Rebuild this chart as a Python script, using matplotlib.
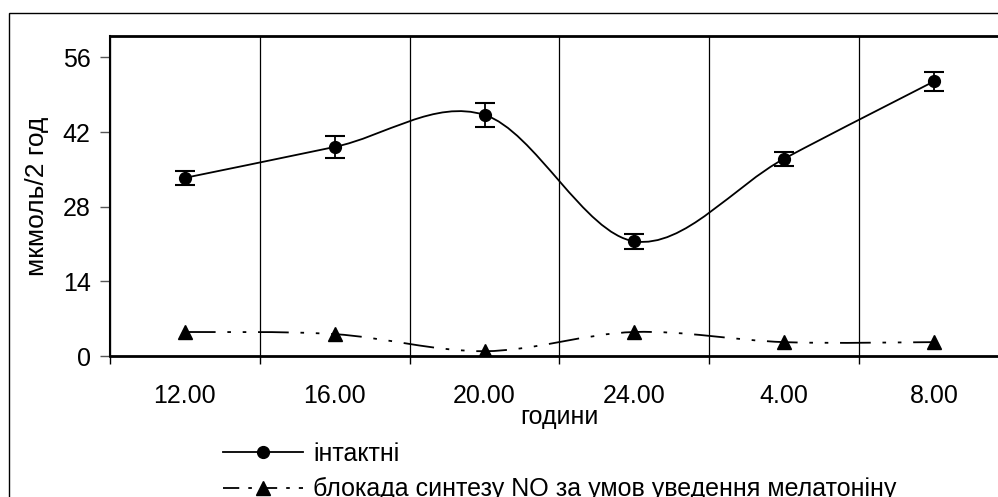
import numpy as np
import matplotlib
matplotlib.use('Agg')
import matplotlib.pyplot as plt
from matplotlib.path import Path
from matplotlib.patches import PathPatch, Rectangle
from matplotlib.lines import Line2D

plt.rcParams['font.family'] = ['Liberation Sans', 'DejaVu Sans']

# --- дані ---
hours = ['12.00', '16.00', '20.00', '24.00', '4.00', '8.00']
intact = [33.4, 39.2, 45.2, 21.5, 37.0, 51.5]
intact_err = [1.3, 2.0, 2.2, 1.4, 1.3, 1.8]
blocked = [4.5, 4.1, 0.9, 4.5, 2.6, 2.6]

label_intact = 'інтактні'
label_blocked = 'блокада синтезу NO за умов уведення мелатоніну'

FS = 18
DASH = (0, (17, 6.5, 2, 6.5, 2, 6.5))


def smooth_path(xs, ys):
    # згладжування як в Excel: кубічні криві Безьє (Catmull-Rom)
    pts = np.column_stack([xs, ys]).astype(float)
    n = len(pts)
    verts = [pts[0]]
    codes = [Path.MOVETO]
    for i in range(n - 1):
        p0 = pts[max(i - 1, 0)]
        p1 = pts[i]
        p2 = pts[i + 1]
        p3 = pts[min(i + 2, n - 1)]
        c1 = p1 + (p2 - p0) / 6.0
        c2 = p2 - (p3 - p1) / 6.0
        verts += [c1, c2, p2]
        codes += [Path.CURVE4] * 3
    return Path(verts, codes)


fig = plt.figure(figsize=(9.98, 4.97), dpi=100)

# зовнішня рамка діаграми
fig.patches.append(Rectangle((9 / 998, -0.1), 1.2, 1 - 13 / 497 + 0.1,
                             transform=fig.transFigure, fill=False,
                             edgecolor='black', linewidth=1.0))

ax = fig.add_axes([110 / 998, 1 - 356 / 497, 899 / 998, 320 / 497])
x = np.arange(len(hours))

ax.add_patch(PathPatch(smooth_path(x, intact), fill=False, edgecolor='black',
                       linewidth=1.3, zorder=3))
ax.add_patch(PathPatch(smooth_path(x, blocked), fill=False, edgecolor='black',
                       linewidth=1.3, linestyle=DASH, zorder=3))

ax.errorbar(x, intact, yerr=intact_err, fmt='o', color='black', markersize=8.5,
            ecolor='black', elinewidth=1.3, capsize=7, capthick=1.5, zorder=4)
ax.plot(x, blocked, linestyle='none', marker='^', color='black', markersize=9.5, zorder=4)

ax.set_xlim(-0.5, len(hours) - 0.5)
ax.set_ylim(0, 60)
ax.set_yticks([0, 14, 28, 42, 56])
ax.set_xticks(x)
ax.set_xticklabels(hours)
ax.set_xticks(np.arange(-0.5, len(hours), 1.0), minor=True)
ax.tick_params(axis='x', which='major', length=0, labelsize=FS, pad=20)
ax.tick_params(axis='x', which='minor', length=6, width=1, direction='out')
ax.tick_params(axis='y', length=7, width=1, direction='out', labelsize=FS, pad=7,
               color='#555555')
ax.grid(True, axis='x', which='minor', color='black', linewidth=0.9)

for s in ['top', 'bottom']:
    ax.spines[s].set_linewidth(2.0)
ax.spines['left'].set_linewidth(1.5)
ax.spines['right'].set_visible(False)

ax.set_xlabel('години', fontsize=FS, labelpad=-2)
ax.set_ylabel('мкмоль/2 год', fontsize=19, labelpad=10)

handles = [
    Line2D([], [], color='black', linewidth=1.3, marker='o', markersize=8.5),
    Line2D([], [], color='black', linewidth=1.3, linestyle=(0, (9, 5, 2, 5)),
           marker='^', markersize=9.5),
]
fig.legend(handles, [label_intact, label_blocked], loc='upper left',
           bbox_to_anchor=(223 / 998, 1 - 442 / 497), frameon=False, fontsize=FS,
           handlelength=3.2, handletextpad=0.4, labelspacing=0.45, borderpad=0,
           borderaxespad=0)

fig.savefig('out.png', dpi=100)
